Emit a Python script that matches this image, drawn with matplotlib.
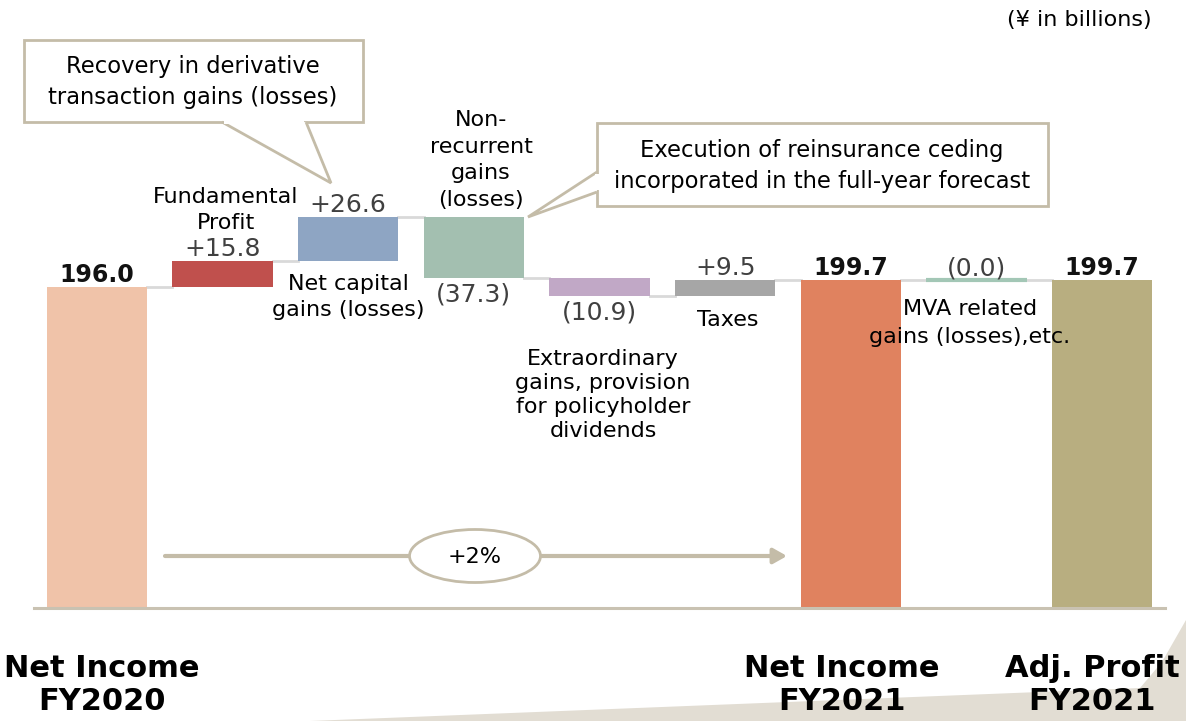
import numpy as np
from matplotlib import pyplot as plt
from matplotlib.patches import Rectangle, Polygon, Ellipse

# (¥ in billions)
steps = ["Net Income FY2020", "Fundamental Profit", "Net capital gains (losses)",
         "Non-recurrent gains (losses)", "Extraordinary gains", "Taxes",
         "Net Income FY2021", "MVA related", "Adj. Profit FY2021"]
values = [196.0, 15.8, 26.6, -37.3, -10.9, 9.5, 199.7, -0.0, 199.7]
is_total = [True, False, False, False, False, False, True, False, True]
labels = ["196.0", "+15.8", "+26.6", "(37.3)", "(10.9)", "+9.5", "199.7", "(0.0)", "199.7"]
colors = ["#f0c3a9", "#c0504d", "#8ea5c3", "#a3bfb0", "#c1a8c6", "#a6a6a6",
          "#e0825f", "#a3c7b6", "#b8ae80"]
growth = "+2%"

W, H = 1186, 721
fig = plt.figure(figsize=(W / 100, H / 100), dpi=100)
plt.rcParams['font.family'] = ['DejaVu Sans']

px_per_unit = 1.64
base_px = 608
ax = fig.add_axes([34 / W, (H - base_px) / H, (1165 - 34) / W, base_px / H])
ax.set_xlim(-0.5, len(values) - 0.5)
ax.set_ylim(0, base_px / px_per_unit)
ax.axis('off')

# running bottoms / tops for the waterfall
bottoms, tops = [], []
level = 0.0
for v, tot in zip(values, is_total):
    if tot:
        bottoms.append(0.0)
        tops.append(v)
        level = v
    else:
        bottoms.append(level)
        tops.append(level + v)
        level += v

x = np.arange(len(values))
heights = np.array(tops) - np.array(bottoms)
for i in x:
    lw = 3 if heights[i] == 0 else 0
    ax.bar(i, heights[i], bottom=bottoms[i], width=0.8, color=colors[i],
           edgecolor=colors[i], linewidth=lw, zorder=3)

# connector lines between bars
for i in range(len(values) - 1):
    ax.plot([i + 0.4, i + 0.6], [tops[i], tops[i]], color="#d9d9d9", lw=2, zorder=2)

ax.axhline(0, color="#c9c2b2", lw=2.2, clip_on=False, zorder=4)

# value labels
for i in x:
    up = is_total[i] or values[i] >= 0
    y = max(tops[i], bottoms[i]) if up else min(tops[i], bottoms[i])
    ax.annotate(labels[i], (i, y), xytext=(0, 0 if up else -3), textcoords='offset points',
                ha='center', va='bottom' if up else 'top',
                fontsize=17 if is_total[i] else 18,
                fontweight='bold' if is_total[i] else 'normal',
                color='#111111' if is_total[i] else '#404040', zorder=5)

# overlay in pixel coordinates for the notes
ov = fig.add_axes([0, 0, 1, 1])
ov.set_xlim(0, W)
ov.set_ylim(H, 0)
ov.axis('off')
ov.patch.set_alpha(0)

ov.add_patch(Polygon([(310, 721), (1140, 688), (1162, 662), (1186, 620), (1186, 721)],
                     closed=True, facecolor="#e2ddd3", edgecolor='none', zorder=0))

box_col = "#c4bca8"


def callout(x0, y0, x1, y1, pointer):
    ov.add_patch(Polygon(pointer, closed=False, facecolor='white', edgecolor=box_col,
                         lw=2, zorder=6))
    ov.add_patch(Rectangle((x0, y0), x1 - x0, y1 - y0, facecolor='white',
                           edgecolor=box_col, lw=2, zorder=5))


callout(24, 40, 363, 122, [(222, 122), (331, 183), (306, 122)])
ov.add_patch(Rectangle((224, 119), 80, 5, facecolor='white', edgecolor='none', zorder=7))
callout(597, 123, 1048, 206, [(597, 172), (528, 217), (597, 192)])
ov.add_patch(Rectangle((595, 174), 5, 16, facecolor='white', edgecolor='none', zorder=7))

ov.text(193, 82, "Recovery in derivative\ntransaction gains (losses)", ha='center', va='center',
        fontsize=16.3, linespacing=1.42, zorder=8)
ov.text(822, 166, "Execution of reinsurance ceding\nincorporated in the full-year forecast",
        ha='center', va='center', fontsize=16.3, linespacing=1.4, zorder=8)

notes = [
    (226, 210, "Fundamental\nProfit", 1.35),
    (348, 297, "Net capital\ngains (losses)", 1.42),
    (481, 160, "Non-\nrecurrent\ngains\n(losses)", 1.42),
    (603, 395, "Extraordinary\ngains, provision\nfor policyholder\ndividends", 1.27),
    (728, 320, "Taxes", 1.0),
    (970, 323, "MVA related\ngains (losses),etc.", 1.5),
]
for nx, ny, t, ls in notes:
    ov.text(nx, ny, t, ha='center', va='center', fontsize=16, linespacing=ls, zorder=8)

ov.text(1152, 20, "(¥ in billions)", ha='right', va='center', fontsize=16, zorder=8)

# growth arrow
ov.annotate("", xy=(787, 556), xytext=(165, 556),
            arrowprops=dict(arrowstyle='-|>,head_length=0.8,head_width=0.45',
                            color="#c4bca8", lw=3, shrinkA=0, shrinkB=0), zorder=5)
ov.add_patch(Ellipse((475, 556), 131, 53, facecolor='white', edgecolor=box_col, lw=2, zorder=6))
ov.text(475, 557, growth, ha='center', va='center', fontsize=16, zorder=8)

for cx, t in [(102, "Net Income\nFY2020"), (842, "Net Income\nFY2021"), (1092, "Adj. Profit\nFY2021")]:
    ov.text(cx, 685, t, ha='center', va='center', fontsize=22, fontweight='bold',
            linespacing=1.2, zorder=8)

fig.savefig("out.png", dpi=100)
